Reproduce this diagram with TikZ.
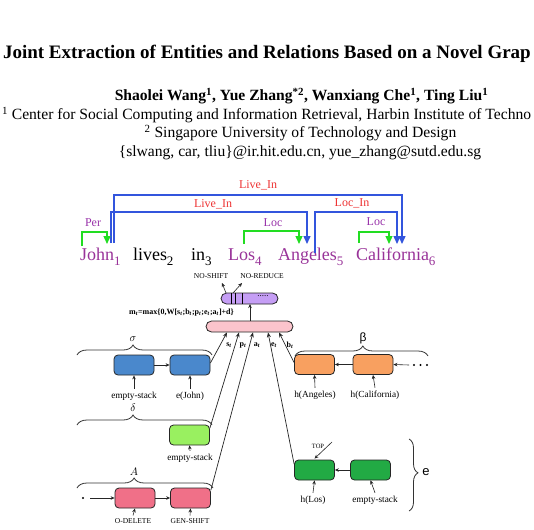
\documentclass[tikz,border=0pt]{standalone}
\usepackage{fontspec}
\setmainfont{Liberation Serif}
\newfontfamily\sansgr{Liberation Sans}
\usetikzlibrary{arrows.meta,decorations.pathreplacing,calc}
\definecolor{wordpurple}{HTML}{993399}
\definecolor{lblpurple}{HTML}{9933AA}
\definecolor{lblred}{HTML}{EE3333}
\definecolor{arcblue}{HTML}{3355DD}
\definecolor{arcgreen}{HTML}{22DD22}
\definecolor{boxblue}{HTML}{4A88CC}
\definecolor{boxlgreen}{HTML}{99F060}
\definecolor{boxred}{HTML}{F07088}
\definecolor{boxorange}{HTML}{F8A060}
\definecolor{boxdgreen}{HTML}{22AA44}
\definecolor{boxpink}{HTML}{FBC4CC}
\definecolor{boxpurple}{HTML}{C59EF5}
\begin{document}
\begin{tikzpicture}[x=1pt,y=-1pt,
  txt/.style={inner sep=0pt,outer sep=0pt},
  statebox/.style={draw=black!85,line width=0.8pt,rounded corners=4pt,minimum width=40pt,minimum height=20pt,inner sep=0pt},
  lbl/.style={txt,font=\fontsize{9.3}{10}\selectfont},
  slbl/.style={txt,font=\fontsize{7.5}{8}\selectfont},
  arr/.style={-{Stealth[length=4pt,width=3.5pt]},line width=0.6pt,black!85},
  inarr/.style={-{Stealth[length=5pt,width=4pt]},line width=0.7pt,black!85},
  greenarc/.style={draw=arcgreen,line width=1.3pt,-{Triangle[length=8pt,width=7pt]}},
  bluearc/.style={draw=arcblue,line width=1.4pt,-{Triangle[length=8pt,width=7pt]}},
  word/.style={txt,anchor=base west,font=\fontsize{18}{20}\selectfont},
  rellbl/.style={txt,font=\fontsize{12}{13}\selectfont},
  brc/.style={decorate,decoration={brace,amplitude=10pt},line width=0.8pt,black!80},
  vlbl/.style={txt,font=\fontsize{8}{9}\selectfont\bfseries}
]
\useasboundingbox[fill=white] (0,0) rectangle (534,529);
% header
\node[txt,anchor=base west,font=\fontsize{19}{22}\selectfont\bfseries] (title) at (3,59)
  {Joint Extraction of Entities and Relations Based on a Novel Grap};
\node[txt,anchor=base,font=\fontsize{15.6}{18}\selectfont\bfseries] (authors) at (301.5,101)
  {Shaolei Wang\textsuperscript{1}, Yue Zhang\textsuperscript{*2}, Wanxiang Che\textsuperscript{1}, Ting Liu\textsuperscript{1}};
\node[txt,anchor=base west,font=\fontsize{15.6}{18}\selectfont] (aff1) at (2,120)
  {\textsuperscript{1} Center for Social Computing and Information Retrieval, Harbin Institute of Techno};
\node[txt,anchor=base,font=\fontsize{15.6}{18}\selectfont] (aff2) at (300.5,138)
  {\textsuperscript{2} Singapore University of Technology and Design};
\node[txt,anchor=base,font=\fontsize{15.6}{18}\selectfont] (mail) at (300,157)
  {\{slwang, car, tliu\}@ir.hit.edu.cn, yue\_zhang@sutd.edu.sg};

% sentence
\node[word,text=wordpurple] (w1) at (80,260) {John\raisebox{-5pt}{\fontsize{13}{13}\selectfont 1}};
\node[word] (w2) at (133,260) {lives\raisebox{-5pt}{\fontsize{13}{13}\selectfont 2}};
\node[word] (w3) at (191,260) {in\raisebox{-5pt}{\fontsize{13}{13}\selectfont 3}};
\node[word,text=wordpurple] (w4) at (228,260) {Los\raisebox{-5pt}{\fontsize{13}{13}\selectfont 4}};
\node[word,text=wordpurple] (w5) at (278,260) {Angeles\raisebox{-5pt}{\fontsize{13}{13}\selectfont 5}};
\node[word,text=wordpurple] (w6) at (356,260) {California\raisebox{-5pt}{\fontsize{13}{13}\selectfont 6}};

% relation arcs
\coordinate (perA) at (82,246);  \coordinate (perB) at (107,244);
\coordinate (liA) at (111,243);  \coordinate (liB) at (307,244);
\coordinate (loA) at (114,243);  \coordinate (loB) at (402,244);
\coordinate (locA) at (244,244); \coordinate (locB) at (299,244);
\coordinate (lcA) at (315,253);  \coordinate (lcB) at (397,244);
\coordinate (cA) at (359,243);   \coordinate (cB) at (389,244);
\draw[bluearc] (loA) -- (114,195) -| (loB);
\draw[bluearc] (liA) -- (111,212) -| (liB);
\draw[bluearc] (lcA) -- (315,212) -| (lcB);
\draw[greenarc] (perA) -- (82,232) -| (perB);
\draw[greenarc] (locA) -- (244,231) -| (locB);
\draw[greenarc] (cA) -- (359,232) -| (cB);
\node[rellbl,text=lblred] (lbLo) at (258,185) {Live\_In};
\node[rellbl,text=lblred] (lbLi) at (213,204) {Live\_In};
\node[rellbl,text=lblred] (lbLc) at (352,203) {Loc\_In};
\node[rellbl,text=lblpurple] (lbPer) at (93,223) {Per};
\node[rellbl,text=lblpurple] (lbLoc1) at (273,223) {Loc};
\node[rellbl,text=lblpurple] (lbLoc2) at (376,222) {Loc};

% output layer
\node[slbl] (nos) at (211,276) {NO-SHIFT};
\node[slbl] (nor) at (262,276) {NO-REDUCE};
\node[draw=black!85,line width=0.8pt,fill=boxpurple,rounded corners=5.5pt,minimum width=57pt,minimum height=11pt,inner sep=0pt] (out) at (249.5,298.5) {};
\draw[line width=0.7pt] (231,293) -- (231,304) (235,293) -- (235,304) (242,293) -- (242,304);
\node[txt,font=\fontsize{9}{9}\selectfont] (odots) at (263,296.5) {.....};
\coordinate (nosS) at (226,293);
\coordinate (norS) at (233,293);
\draw[arr] (nosS) -- (222,283);
\draw[arr] (norS) -- (242,283);
\node[draw=black!85,line width=0.8pt,fill=boxpink,rounded corners=5.5pt,minimum width=87pt,minimum height=11pt,inner sep=0pt] (hid) at (249.5,326.5) {};
\draw[arr] (hid.north) ++(0.5,0) -- (250,304);
\node[txt,font=\fontsize{8}{9}\selectfont\bfseries] (mt) at (181.5,313)
  {m\textsubscript{\textit{t}}=max\{0,W[s\textsubscript{\textit{t}};b\textsubscript{\textit{t}};p\textsubscript{\textit{t}};e\textsubscript{\textit{t}};a\textsubscript{\textit{t}}]+d\}};

% sigma stack
\node[statebox,fill=boxblue] (s1) at (134,365) {};
\node[statebox,fill=boxblue] (s2) at (190,365) {};
\draw[arr] (s1.east) -- (s2.west);
\node[lbl] (s1l) at (134,396) {empty-stack};
\node[lbl] (s2l) at (190,396) {e(John)};
\draw[arr] ([yshift=3pt]s1l.north) -- (s1.south);
\draw[arr] ([yshift=3pt]s2l.north) -- (s2.south);
\draw[brc,decoration={aspect=0.415}] (77,355) -- (212,355);
\node[txt,font=\fontsize{11}{12}\selectfont] (sig) at (133,339) {$\sigma$};

% delta stack
\node[statebox,fill=boxlgreen] (d1) at (189.5,435) {};
\node[lbl] (d1l) at (190,458) {empty-stack};
\draw[arr] ([yshift=3pt]d1l.north) -- (d1.south);
\draw[brc,decoration={aspect=0.415}] (77,425) -- (212,425);
\node[txt,font=\fontsize{11}{12}\selectfont] (del) at (133,408) {$\delta$};

% action stack
\node[statebox,fill=boxred] (a1) at (135,498) {};
\node[statebox,fill=boxred] (a2) at (190.5,498) {};
\draw[arr] (a1.east) -- (a2.west);
\node[circle,fill=black,inner sep=0pt,minimum size=2.2pt] (adot) at (83,498) {};
\coordinate (aS) at (90,498);
\draw[arr] (aS) -- (a1.west);
\node[slbl] (a1l) at (133,521) {O-DELETE};
\node[slbl] (a2l) at (190,521) {GEN-SHIFT};
\draw[arr] ([yshift=3pt]a1l.north) -- (a1.south);
\draw[arr] ([yshift=3pt]a2l.north) -- (a2.south);
\draw[brc,decoration={aspect=0.42}] (77,488) -- (213,488);
\node[txt,font=\fontsize{11}{12}\selectfont] (act) at (134,472) {$A$};

% beta buffer
\node[statebox,fill=boxorange] (b1) at (314.5,364.5) {};
\node[statebox,fill=boxorange] (b2) at (373,364.5) {};
\draw[arr] (b2.west) -- (b1.east);
\foreach \i/\x in {1/414,2/420.5,3/427}
  \node[circle,fill=black,inner sep=0pt,minimum size=2.4pt] (bd\i) at (\x,365) {};
\coordinate (bS) at (409,365);
\draw[arr] (bS) -- (b2.east);
\node[lbl] (b1l) at (315,395) {h(Angeles)};
\node[lbl] (b2l) at (375,395) {h(California)};
\draw[arr] ([yshift=3pt]b1l.north) -- (b1.south);
\draw[arr] ([yshift=3pt]b2l.north) -- (b2.south);
\draw[brc,decoration={aspect=0.51}] (295,356) -- (428,356);
\node[txt,font=\sansgr\fontsize{12}{13}\selectfont] (bet) at (363,338) {β};

% e stack
\node[statebox,fill=boxdgreen] (e1) at (314.5,470) {};
\node[statebox,fill=boxdgreen] (e2) at (370.5,470) {};
\draw[arr] (e2.west) -- (e1.east);
\node[lbl] (e1l) at (313,500) {h(Los)};
\node[lbl] (e2l) at (375,500) {empty-stack};
\draw[arr] ([yshift=3pt]e1l.north) -- (e1.south);
\draw[arr] ([yshift=3pt]e2l.north) -- (e2.south);
\node[txt,font=\fontsize{6.5}{7}\selectfont] (top) at (318,446) {TOP};
\coordinate (topS) at (332,442);
\draw[arr] (topS) -- ([yshift=1pt]e1.north);
\draw[brc,decoration={aspect=0.47,amplitude=9pt}] (409,439) -- (409,511);
\node[txt,font=\sansgr\fontsize{13}{14}\selectfont] (elb) at (426,472) {e};

% inputs to hidden layer
\draw[inarr] ([yshift=2pt]s2.east) -- ([xshift=-22.5pt]hid.south);
\draw[inarr] ([yshift=7pt]d1.east) -- ([xshift=-10.5pt]hid.south);
\draw[inarr] ([yshift=8pt]a2.east) -- ([xshift=3.5pt]hid.south);
\draw[inarr] ([yshift=6pt]e1.west) -- ([xshift=18.5pt]hid.south);
\draw[inarr] ([yshift=2pt]b1.west) -- ([xshift=29.5pt]hid.south);
\node[vlbl] (ls) at (229,345) {s\textsubscript{\textit{t}}};
\node[vlbl] (lp) at (243,345) {p\textsubscript{\textit{t}}};
\node[vlbl] (la) at (257,345) {a\textsubscript{\textit{t}}};
\node[vlbl] (le) at (274,345) {e\textsubscript{\textit{t}}};
\node[vlbl] (lb) at (290,345) {b\textsubscript{\textit{t}}};
\end{tikzpicture}
\end{document}
